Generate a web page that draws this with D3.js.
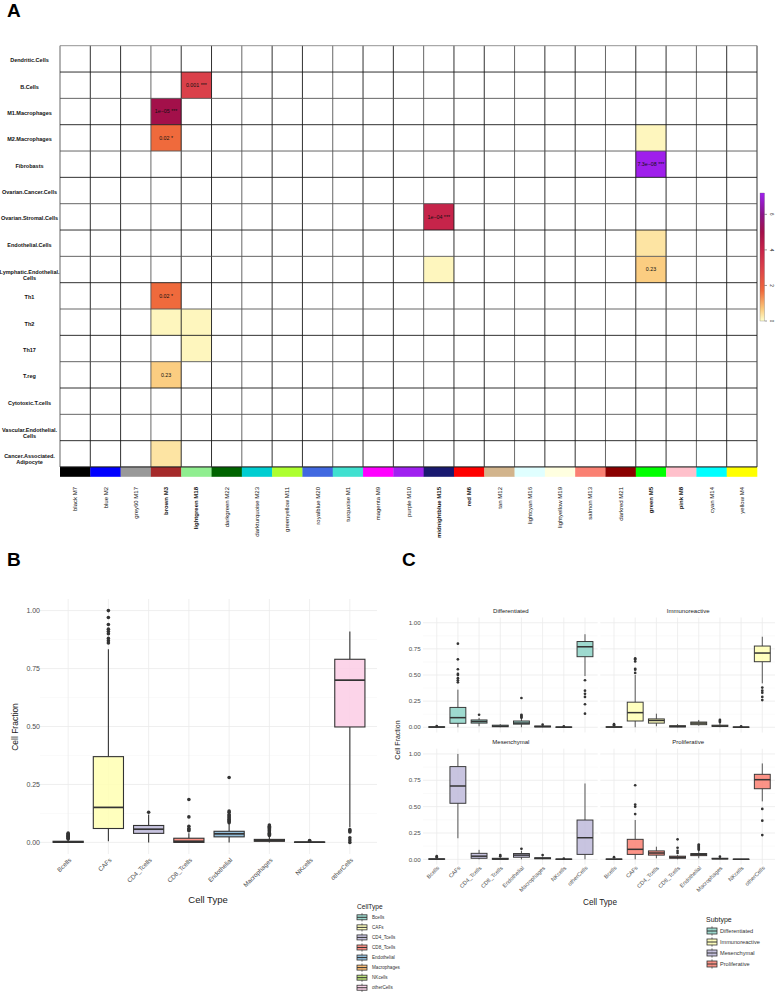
<!DOCTYPE html>
<html><head><meta charset="utf-8">
<script src="https://cdn.jsdelivr.net/npm/d3@7"></script>
<style>html,body{margin:0;padding:0;background:#fff;}svg{display:block;}</style>
</head><body>
<svg id="chart" width="777" height="992" font-family="'Liberation Sans', Arial, Helvetica, sans-serif"></svg>
<script>
// ---------------- Panel A data ----------------
const heatRows = ["Dendritic.Cells","B.Cells","M1.Macrophages","M2.Macrophages","Fibrobasts","Ovarian.Cancer.Cells","Ovarian.Stromal.Cells","Endothelial.Cells","Lymphatic.Endothelial.\nCells","Th1","Th2","Th17","T.reg","Cytotoxic.T.cells","Vascular.Endothelial.\nCells","Cancer.Associated.\nAdipocyte"];
const heatModules = ["black M7","blue M2","grey60 M17","brown M3","lightgreen M18","darkgreen M22","darkturquoise M23","greenyellow M11","royalblue M20","turquoise M1","magenta M9","purple M10","midnightblue M15","red M6","tan M12","lightcyan M16","lightyellow M19","salmon M13","darkred M21","green M5","pink M8","cyan M14","yellow M4"];
const heatModuleColors = ["#000000","#0000FF","#999999","#A52A2A","#90EE90","#006400","#00CED1","#ADFF2F","#4169E1","#40E0D0","#FF00FF","#A020F0","#191970","#FF0000","#D2B48C","#E0FFFF","#FFFFE0","#FA8072","#8B0000","#00FF00","#FFC0CB","#00FFFF","#FFFF00"];
const boldModules = ["brown M3","lightgreen M18","midnightblue M15","red M6","green M5","pink M8"];
const hitRows = ["B.Cells","M1.Macrophages","M2.Macrophages","M2.Macrophages","Fibrobasts","Ovarian.Stromal.Cells","Endothelial.Cells","Lymphatic.Endothelial.\nCells","Lymphatic.Endothelial.\nCells","Th1","Th2","Th2","Th17","T.reg","Cancer.Associated.\nAdipocyte"];
const hitModules = ["lightgreen M18","brown M3","brown M3","green M5","green M5","midnightblue M15","green M5","midnightblue M15","green M5","brown M3","brown M3","lightgreen M18","lightgreen M18","brown M3","brown M3"];
const hitScores = [3, 5, 1.7, 0.12, 7.14, 4, 0.35, 0.12, 0.64, 1.7, 0.12, 0.12, 0.12, 0.64, 0.35];
const hitLabels = ["0.001 ***","1e\u221205 ***","0.02 *","","7.3e\u221208 ***","1e\u221204 ***","","","0.23","0.02 *","","","","0.23",""];
const colorbarTicks = [0, 2, 4, 6];
const colorStops = [0, 0.7, 1.7, 3, 4, 5, 6, 7.2];
const colorRange = ["#ffffcc","#fbc87a","#ef6a3c","#da404a","#c6244a","#a3104a","#8a1488","#a020f0"];

// ---------------- Panel B data ----------------
const bCategories = ["Bcells","CAFs","CD4_Tcells","CD8_Tcells","Endothelial","Macrophages","NKcells","otherCells"];
const bColors = ["#8DD3C7","#FFFFB3","#BEBADA","#FB8072","#80B1D3","#FDB462","#B3DE69","#FCCDE5"];
const bLower  = [0, 0.005, 0, 0, 0, 0, 0, 0.065];
const bQ1     = [0, 0.06, 0.039, 0, 0.024, 0.005, 0, 0.498];
const bMedian = [0.002, 0.151, 0.057, 0.005, 0.037, 0.008, 0.001, 0.70];
const bQ3     = [0.005, 0.37, 0.073, 0.018, 0.048, 0.013, 0.002, 0.79];
const bUpper  = [0.012, 0.833, 0.12, 0.04, 0.08, 0.025, 0.004, 0.91];
const bOutliers = [
  [0.015,0.018,0.021,0.024,0.027,0.03,0.033,0.036,0.04],
  [0.86,0.87,0.88,0.9,0.91,0.92,0.94,0.97,1.0],
  [0.13],
  [0.05,0.055,0.06,0.07,0.11,0.185],
  [0.085,0.09,0.095,0.1,0.105,0.11,0.115,0.12,0.13,0.135,0.28],
  [0.03,0.035,0.04,0.045,0.05,0.055,0.06,0.065,0.07,0.075],
  [0.006,0.008],
  [0.0,0.01,0.02,0.045,0.05,0.055]
];
const yTicks = [0, 0.25, 0.5, 0.75, 1.0];
const yMinorTicks = [0.125, 0.375, 0.625, 0.875];

// ---------------- Panel C data ----------------
const subtypes = ["Differentiated","Immunoreactive","Mesenchymal","Proliferative"];
const subtypeColors = ["#8DD3C7","#FFFFB3","#BEBADA","#FB8072"];
const cLower = [
  [0, 0, 0.01, 0, 0, 0, 0, 0.49],
  [0, 0, 0.01, 0, 0.015, 0, 0, 0.42],
  [0, 0.2, 0, 0, 0, 0, 0, 0],
  [0, 0, 0.01, 0, 0.01, 0, 0, 0.55]
];
const cQ1 = [
  [0, 0.038, 0.04, 0.005, 0.03, 0.003, 0, 0.675],
  [0, 0.06, 0.04, 0.003, 0.025, 0.008, 0, 0.627],
  [0, 0.532, 0.01, 0, 0.02, 0.005, 0, 0.047],
  [0, 0.047, 0.04, 0.01, 0.035, 0.003, 0, 0.67]
];
const cMedian = [
  [0.002, 0.092, 0.055, 0.01, 0.04, 0.007, 0.001, 0.77],
  [0.002, 0.14, 0.065, 0.008, 0.04, 0.012, 0.001, 0.71],
  [0.002, 0.696, 0.03, 0.003, 0.04, 0.01, 0.001, 0.205],
  [0.001, 0.095, 0.06, 0.02, 0.045, 0.006, 0.001, 0.756]
];
const cQ3 = [
  [0.005, 0.19, 0.07, 0.02, 0.06, 0.012, 0.003, 0.82],
  [0.005, 0.24, 0.08, 0.015, 0.05, 0.02, 0.003, 0.777],
  [0.005, 0.88, 0.057, 0.01, 0.055, 0.015, 0.003, 0.373],
  [0.003, 0.19, 0.08, 0.03, 0.055, 0.01, 0.002, 0.807]
];
const cUpper = [
  [0.008, 0.36, 0.09, 0.03, 0.08, 0.02, 0.005, 0.89],
  [0.01, 0.5, 0.13, 0.03, 0.07, 0.04, 0.005, 0.866],
  [0.01, 1.0, 0.09, 0.02, 0.08, 0.025, 0.004, 0.72],
  [0.008, 0.373, 0.12, 0.04, 0.08, 0.02, 0.004, 0.91]
];
const cOutliers = [
  [[0.012],[0.43,0.45,0.47,0.5,0.51,0.555,0.65,0.8],[0.12],[],[0.09,0.1,0.11,0.12,0.28],[0.025],[0.008],[0.45,0.35,0.32,0.29,0.22,0.13]],
  [[0.02,0.03],[0.52,0.55,0.56,0.63,0.65,0.66],[],[],[],[0.05,0.06,0.07],[0.01],[0.38,0.35,0.33,0.29,0.26]],
  [[0.02,0.03],[],[],[0.03,0.04],[0.1],[0.04],[0.006],[]],
  [[0.02],[0.43,0.5,0.52,0.703],[],[0.06,0.08,0.11,0.19],[0.09,0.1,0.11,0.12,0.13,0.14],[0.025],[],[0.478,0.367,0.23]]
];

// ================= Drawing =================
const svg = d3.select("#chart");
svg.append("rect").attr("width",777).attr("height",992).attr("fill","#fff");

function panelLabel(t, x, y){
  svg.append("text").attr("x",x).attr("y",y).attr("font-size",19).attr("font-weight","bold").attr("fill","#000").text(t);
}
panelLabel("A", 7, 17);
panelLabel("B", 7, 566);
panelLabel("C", 402, 566);

// ---------- Panel A ----------
const xA = d3.scaleBand().domain(heatModules).range([60, 757]);
const yA = d3.scaleBand().domain(heatRows).range([45.7, 467]);
const heatColor = d3.scaleLinear().domain(colorStops).range(colorRange).clamp(true);
const gA = svg.append("g");
gA.append("rect").attr("x",60).attr("y",45.7).attr("width",697).attr("height",421.3).attr("fill","#fff");
hitRows.forEach((r,i)=>{
  gA.append("rect").attr("x",xA(hitModules[i])).attr("y",yA(r))
    .attr("width",xA.bandwidth()).attr("height",yA.bandwidth())
    .attr("fill",heatColor(hitScores[i]));
});
// grid lines
heatModules.concat(["__end"]).forEach((m,i)=>{
  const x = i < heatModules.length ? xA(m) : xA.range()[1];
  gA.append("line").attr("x1",x).attr("x2",x).attr("y1",45.7).attr("y2",467)
    .attr("stroke", i%3===0 ? "#555" : "#1a1a1a").attr("stroke-width",0.9);
});
heatRows.concat(["__end"]).forEach((r,i)=>{
  const y = i < heatRows.length ? yA(r) : yA.range()[1];
  gA.append("line").attr("x1",60).attr("x2",757).attr("y1",y).attr("y2",y)
    .attr("stroke", i===0 ? "#888" : (i%2 ? "#1a1a1a" : "#555")).attr("stroke-width",0.9);
});
// cell text
hitRows.forEach((r,i)=>{
  if(!hitLabels[i]) return;
  gA.append("text").attr("x",xA(hitModules[i])+xA.bandwidth()/2).attr("y",yA(r)+yA.bandwidth()/2)
    .attr("dy","0.35em").attr("text-anchor","middle").attr("font-size",5.3).attr("fill","#111")
    .text(hitLabels[i]);
});
// row labels
heatRows.forEach(r=>{
  const lines = r.split("\n");
  const cy = yA(r) + yA.bandwidth()/2;
  const t = gA.append("text").attr("text-anchor","middle").attr("font-size",5.5).attr("font-weight","bold").attr("fill","#111");
  lines.forEach((ln,j)=>{
    const yy = lines.length===1 ? cy+1.5 : cy+2.5+j*6;
    t.append("tspan").attr("x",29.5).attr("y",yy).attr("dy","0.35em").text(ln);
  });
});
// module colour bar
heatModules.forEach((m,i)=>{
  gA.append("rect").attr("x",xA(m)).attr("y",467).attr("width",xA.bandwidth()+0.3).attr("height",9.8).attr("fill",heatModuleColors[i]);
});
gA.append("line").attr("x1",60).attr("x2",757).attr("y1",467).attr("y2",467).attr("stroke","#1a1a1a").attr("stroke-width",0.9);
// module labels
heatModules.forEach(m=>{
  const x = xA(m)+xA.bandwidth()/2;
  gA.append("text").attr("transform",`translate(${x},487) rotate(-90)`)
    .attr("text-anchor","end").attr("dy","0.35em").attr("font-size",6)
    .attr("font-weight", boldModules.includes(m) ? "bold" : "normal").attr("fill","#111").text(m);
});
// colour legend
const cbY = d3.scaleLinear().domain([0, 7.2]).range([321, 193]);
const defs = svg.append("defs");
const grad = defs.append("linearGradient").attr("id","cbgrad").attr("x1",0).attr("y1",1).attr("x2",0).attr("y2",0);
colorStops.forEach((s,i)=>grad.append("stop").attr("offset",s/7.2).attr("stop-color",colorRange[i]));
gA.append("rect").attr("x",760).attr("y",193).attr("width",4.5).attr("height",128).attr("fill","url(#cbgrad)")
  .attr("stroke","#666").attr("stroke-width",0.3);
colorbarTicks.forEach(v=>{
  gA.append("line").attr("x1",764.5).attr("x2",767).attr("y1",cbY(v)).attr("y2",cbY(v)).attr("stroke","#333").attr("stroke-width",0.5);
  gA.append("text").attr("transform",`translate(770,${cbY(v)}) rotate(90)`).attr("text-anchor","middle")
    .attr("font-size",4.5).attr("fill","#222").text(v);
});

// ---------- helpers for boxplots ----------
const fmt = d3.format(".2f");
function drawGrid(g, x, y, cats, xr){
  const [y0, y1] = [y.range()[1], y.range()[0]];
  yMinorTicks.forEach(v=> g.append("line").attr("x1",xr[0]).attr("x2",xr[1]).attr("y1",y(v)).attr("y2",y(v)).attr("stroke","#f4f4f4").attr("stroke-width",0.5));
  yTicks.forEach(v=> g.append("line").attr("x1",xr[0]).attr("x2",xr[1]).attr("y1",y(v)).attr("y2",y(v)).attr("stroke","#ebebeb").attr("stroke-width",0.8));
  cats.forEach(c=> g.append("line").attr("x1",x(c)).attr("x2",x(c)).attr("y1",y0).attr("y2",y1).attr("stroke","#ebebeb").attr("stroke-width",0.8));
}
function drawBox(g, cx, w, lo, q1, med, q3, hi, outs, y, fill, s){
  g.append("line").attr("x1",cx).attr("x2",cx).attr("y1",y(hi)).attr("y2",y(q3)).attr("stroke",s.wcol).attr("stroke-width",s.ww);
  g.append("line").attr("x1",cx).attr("x2",cx).attr("y1",y(q1)).attr("y2",y(lo)).attr("stroke",s.wcol).attr("stroke-width",s.ww);
  g.append("rect").attr("x",cx-w/2).attr("y",y(q3)).attr("width",w).attr("height",Math.max(0.4, y(q1)-y(q3)))
    .attr("fill",fill).attr("fill-opacity",0.85).attr("stroke","#333").attr("stroke-width",s.bw);
  g.append("line").attr("x1",cx-w/2).attr("x2",cx+w/2).attr("y1",y(med)).attr("y2",y(med)).attr("stroke","#333").attr("stroke-width",s.mw);
  outs.forEach(v=> g.append("circle").attr("cx",cx).attr("cy",y(v)).attr("r",s.r).attr("fill","#333"));
}

// ---------- Panel B ----------
const gB = svg.append("g");
const xB = d3.scalePoint().domain(bCategories).range([44, 374]).padding(0.6);
const yB = d3.scaleLinear().domain([-0.05, 1.05]).range([854, 599]);
drawGrid(gB, xB, yB, bCategories, [40, 377]);
const bw = xB.step()*0.75;
bCategories.forEach((c,i)=>{
  drawBox(gB, xB(c), bw, bLower[i], bQ1[i], bMedian[i], bQ3[i], bUpper[i], bOutliers[i], yB, bColors[i],
    {wcol:"#333", ww:1.1, bw:1.1, mw:1.7, r:1.8});
});
yTicks.forEach(v=> gB.append("text").attr("x",40).attr("y",yB(v)).attr("dy","0.35em").attr("text-anchor","end")
  .attr("font-size",7).attr("fill","#4d4d4d").text(fmt(v)));
bCategories.forEach(c=> gB.append("text").attr("transform",`translate(${xB(c)+2},859) rotate(-45)`)
  .attr("text-anchor","end").attr("dy","0.35em").attr("font-size",6.3).attr("fill","#4d4d4d").text(c));
gB.append("text").attr("transform","translate(15,727) rotate(-90)").attr("text-anchor","middle").attr("dy","0.35em")
  .attr("font-size",8.5).attr("fill","#222").text("Cell Fraction");
gB.append("text").attr("x",208).attr("y",903).attr("text-anchor","middle").attr("font-size",9.5).attr("fill","#222").text("Cell Type");

// legend B
function legendKey(g, x, yc, w, h, fill){
  g.append("line").attr("x1",x+w/2).attr("x2",x+w/2).attr("y1",yc-h/2-1.6).attr("y2",yc+h/2+1.6).attr("stroke","#333").attr("stroke-width",0.7);
  g.append("rect").attr("x",x).attr("y",yc-h/2).attr("width",w).attr("height",h).attr("fill",fill).attr("fill-opacity",0.85).attr("stroke","#333").attr("stroke-width",0.8);
  g.append("line").attr("x1",x).attr("x2",x+w).attr("y1",yc).attr("y2",yc).attr("stroke","#333").attr("stroke-width",1);
}
gB.append("text").attr("x",357).attr("y",909).attr("font-size",6.6).attr("fill","#222").text("CellType");
bCategories.forEach((c,i)=>{
  const yc = 917.3 + i*10.06;
  legendKey(gB, 357, yc, 10, 5, bColors[i]);
  gB.append("text").attr("x",372).attr("y",yc).attr("dy","0.35em").attr("font-size",4.6).attr("fill","#333").text(c);
});

// ---------- Panel C ----------
const gC = svg.append("g");
const panelX = [[424, 597.7],[601.3, 775],[424, 597.7],[601.3, 775]];
const panelY = [[732.5, 617.5],[732.5, 617.5],[864.6, 748.7],[864.6, 748.7]];
subtypes.forEach((st,k)=>{
  const x = d3.scalePoint().domain(bCategories).range(panelX[k]).padding(0.6);
  const y = d3.scaleLinear().domain([-0.05, 1.05]).range(panelY[k]);
  drawGrid(gC, x, y, bCategories, [panelX[k][0]-1, panelX[k][1]]);
  const w = x.step()*0.75;
  bCategories.forEach((c,i)=>{
    drawBox(gC, x(c), w, cLower[k][i], cQ1[k][i], cMedian[k][i], cQ3[k][i], cUpper[k][i], cOutliers[k][i], y, subtypeColors[k],
      {wcol:"#444", ww:0.9, bw:0.95, mw:1.5, r:1.35});
  });
  gC.append("text").attr("x",(panelX[k][0]+panelX[k][1])/2).attr("y",panelY[k][1]-5).attr("text-anchor","middle")
    .attr("font-size",6).attr("fill","#1a1a1a").text(st);
  if(k%2===0){
    yTicks.forEach(v=> gC.append("text").attr("x",420.7).attr("y",y(v)).attr("dy","0.35em").attr("text-anchor","end")
      .attr("font-size",6.2).attr("fill","#4d4d4d").text(fmt(v)));
  }
  if(k>=2){
    bCategories.forEach(c=> gC.append("text").attr("transform",`translate(${x(c)+1.5},867) rotate(-45)`)
      .attr("text-anchor","end").attr("dy","0.35em").attr("font-size",5.6).attr("fill","#4d4d4d").text(c));
  }
});
gC.append("text").attr("transform","translate(398,740) rotate(-90)").attr("text-anchor","middle").attr("dy","0.35em")
  .attr("font-size",7).attr("fill","#222").text("Cell Fraction");
gC.append("text").attr("x",600).attr("y",905).attr("text-anchor","middle").attr("font-size",8.2).attr("fill","#222").text("Cell Type");
// legend C
gC.append("text").attr("x",706).attr("y",922).attr("font-size",7).attr("fill","#222").text("Subtype");
subtypes.forEach((st,i)=>{
  const yc = 931 + i*11;
  legendKey(gC, 707, yc, 10, 6, subtypeColors[i]);
  gC.append("text").attr("x",720).attr("y",yc).attr("dy","0.35em").attr("font-size",5.6).attr("fill","#333").text(st);
});
</script>
</body></html>
